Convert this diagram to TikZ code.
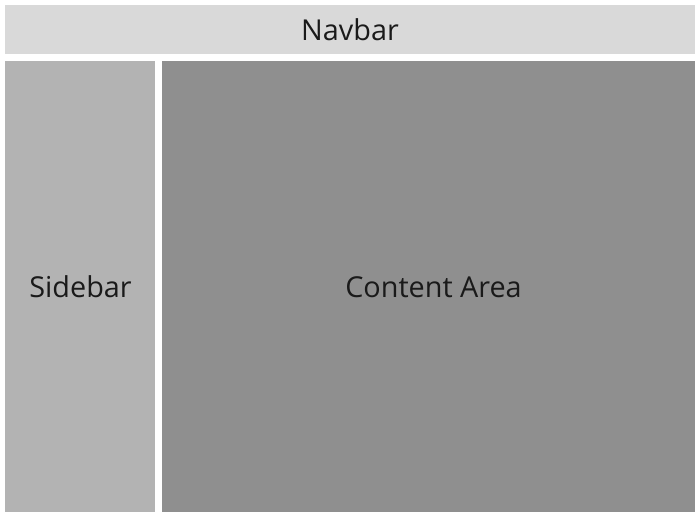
\documentclass[tikz,border=0pt]{standalone}
\usepackage{fontspec}
\setmainfont{Open Sans}
\definecolor{navc}{HTML}{D9D9D9}
\definecolor{sidec}{HTML}{B3B3B3}
\definecolor{contc}{HTML}{8F8F8F}
\definecolor{txtc}{HTML}{1A1A1A}
\begin{document}
\begin{tikzpicture}[x=1pt,y=-1pt,
  panel/.style={draw=none,inner sep=0pt,outer sep=0pt},
  lbl/.style={font=\fontsize{28.8}{32}\selectfont,text=txtc,inner sep=0pt}]
\useasboundingbox[fill=white] (0,0) rectangle (700,518);
\path[panel,fill=navc] (5,5) rectangle (695,54.5);
\path[panel,fill=sidec] (5,61) rectangle (155,512);
\path[panel,fill=contc] (162,61) rectangle (695,512);
\node[lbl] (nav) at (350,30) {Navbar};
\node[lbl] (side) at (80.5,287) {Sidebar};
\node[lbl] (content) at (433.5,287) {Content Area};
\end{tikzpicture}
\end{document}
